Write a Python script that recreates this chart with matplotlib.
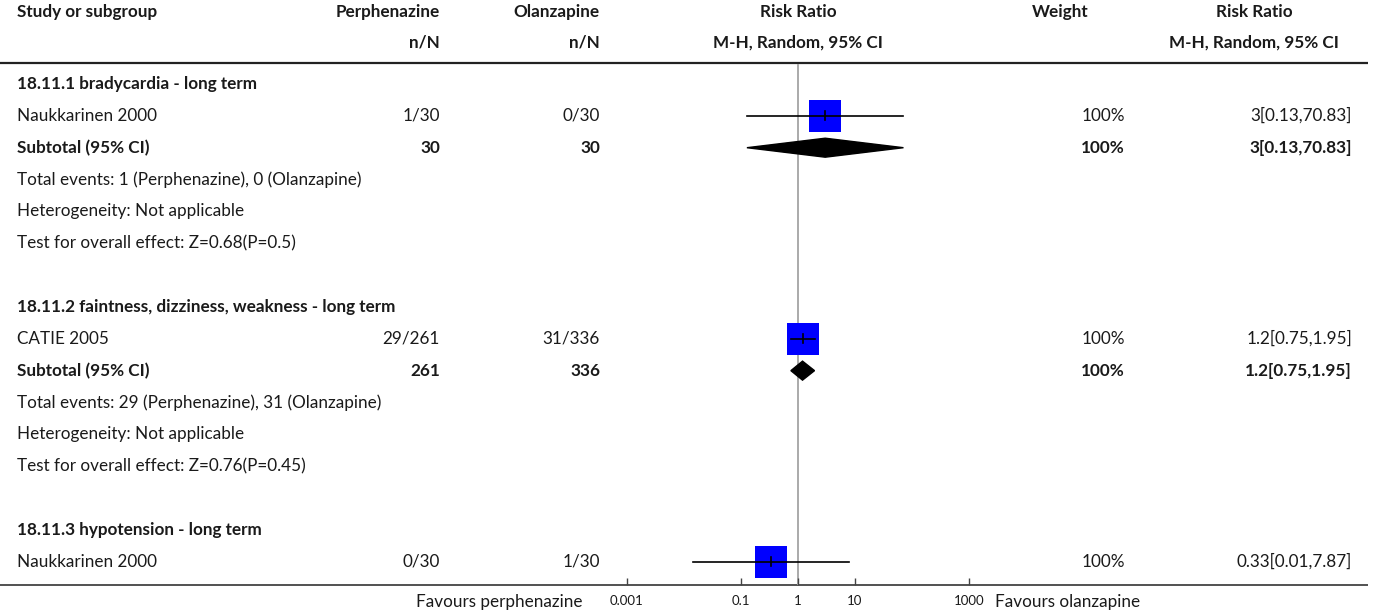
import matplotlib
matplotlib.use('Agg')
import matplotlib.pyplot as plt
import numpy as np
from matplotlib.patches import Polygon

plt.rcParams['font.family'] = ['Lato', 'DejaVu Sans']

# data
subgroups = ['18.11.1 bradycardia - long term',
             '18.11.2 faintness, dizziness, weakness - long term',
             '18.11.3 hypotension - long term']
studies = ['Naukkarinen 2000', 'CATIE 2005', 'Naukkarinen 2000']
perph_events = [1, 29, 0]
perph_total = [30, 261, 30]
olan_events = [0, 31, 1]
olan_total = [30, 336, 30]
rr = [3, 1.2, 0.33]
rr_lo = [0.127, 0.75, 0.0141]
rr_hi = [70.83, 1.95, 7.87]
weights = [100, 100, 100]
sub_rr = [3, 1.2]
sub_lo = [0.127, 0.75]
sub_hi = [70.83, 1.95]
sub_tests = ['Z=0.68(P=0.5)', 'Z=0.76(P=0.45)']
ticks = [0.001, 0.1, 1, 10, 1000]

W, H = 1375, 612
ROW0, ROWH = 84, 31.85
FS = 12.3
TXT = '#1a1a1a'
LINE_R = 1368

def fmt(v):
    return '{:g}'.format(round(v, 2))

def ci_text(m, lo, hi):
    return '{}[{},{}]'.format(fmt(m), fmt(lo), fmt(hi))

fig = plt.figure(figsize=(W / 100, H / 100), dpi=100)
ax = fig.add_axes([0, 0, 1, 1])
ax.set_xlim(0, W)
ax.set_ylim(H, 0)
ax.axis('off')

# forest axes, same vertical pixel mapping as ax
AX_L, AX_R, AX_B = 627, 969, 585
fx = fig.add_axes([AX_L / W, (H - AX_B) / H, (AX_R - AX_L) / W, AX_B / H])
fx.set_xscale('log')
fx.set_xlim(0.001, 1000)
fx.set_ylim(AX_B, 0)
fx.patch.set_visible(False)
for s in ['top', 'left', 'right', 'bottom']:
    fx.spines[s].set_visible(False)
fx.set_yticks([])
fx.set_xticks(ticks)
fx.set_xticklabels([('{:g}'.format(t)) for t in ticks], fontsize=9.5, color=TXT)
fx.minorticks_off()
fx.tick_params(axis='x', direction='in', length=5, width=1, color='#444444', pad=7)

def ry(i):
    return ROW0 + ROWH * i

def txt(x, y, s, ha='left', bold=False):
    ax.text(x, y, s, ha=ha, va='center', fontsize=FS, color=TXT,
            fontweight='bold' if bold else 'normal')

# header
txt(17, 12, 'Study or subgroup', bold=True)
txt(440, 12, 'Perphenazine', ha='right', bold=True)
txt(440, 43, 'n/N', ha='right', bold=True)
txt(600, 12, 'Olanzapine', ha='right', bold=True)
txt(600, 43, 'n/N', ha='right', bold=True)
txt(798, 12, 'Risk Ratio', ha='center', bold=True)
txt(798, 43, 'M-H, Random, 95% CI', ha='center', bold=True)
txt(1060, 12, 'Weight', ha='center', bold=True)
txt(1254, 12, 'Risk Ratio', ha='center', bold=True)
txt(1254, 43, 'M-H, Random, 95% CI', ha='center', bold=True)
ax.hlines(63, 0, LINE_R, color='#222222', lw=1.6)
ax.hlines(AX_B, 0, LINE_R, color='#333333', lw=1.2)

# null line
fx.vlines(1, 64, AX_B, color='#aaaaaa', lw=1.4, zorder=0)

row = 0
for k in range(3):
    txt(17, ry(row), subgroups[k], bold=True)
    row += 1
    y = ry(row)
    txt(17, y, studies[k])
    txt(440, y, '{}/{}'.format(perph_events[k], perph_total[k]), ha='right')
    txt(600, y, '{}/{}'.format(olan_events[k], olan_total[k]), ha='right')
    txt(1125, y, '{}%'.format(weights[k]), ha='right')
    txt(1352, y, ci_text(rr[k], rr_lo[k], rr_hi[k]), ha='right')
    fx.scatter([rr[k]], [y], marker='s', s=500, color='#0000ff', linewidths=0, zorder=2)
    fx.plot([rr_lo[k], rr_hi[k]], [y, y], color='black', lw=1.2, zorder=3)
    fx.plot([rr[k], rr[k]], [y - 4.5, y + 4.5], color='black', lw=1.2, zorder=4)
    row += 1
    if k < 2:
        y = ry(row)
        txt(17, y, 'Subtotal (95% CI)', bold=True)
        txt(440, y, str(perph_total[k]), ha='right', bold=True)
        txt(600, y, str(olan_total[k]), ha='right', bold=True)
        txt(1125, y, '{}%'.format(weights[k]), ha='right', bold=True)
        txt(1352, y, ci_text(sub_rr[k], sub_lo[k], sub_hi[k]), ha='right', bold=True)
        d = Polygon([[sub_lo[k], y], [sub_rr[k], y - 9.5], [sub_hi[k], y], [sub_rr[k], y + 9.5]],
                    closed=True, color='black', zorder=3)
        fx.add_patch(d)
        row += 1
        txt(17, ry(row), 'Total events: {} (Perphenazine), {} (Olanzapine)'.format(
            perph_events[k], olan_events[k]))
        row += 1
        txt(17, ry(row), 'Heterogeneity: Not applicable')
        row += 1
        txt(17, ry(row), 'Test for overall effect: ' + sub_tests[k])
        row += 2

# footer
ax.text(583, 602, 'Favours perphenazine', ha='right', va='center', fontsize=FS, color=TXT)
ax.text(995, 602, 'Favours olanzapine', ha='left', va='center', fontsize=FS, color=TXT)

fig.savefig('out.png', dpi=100)
